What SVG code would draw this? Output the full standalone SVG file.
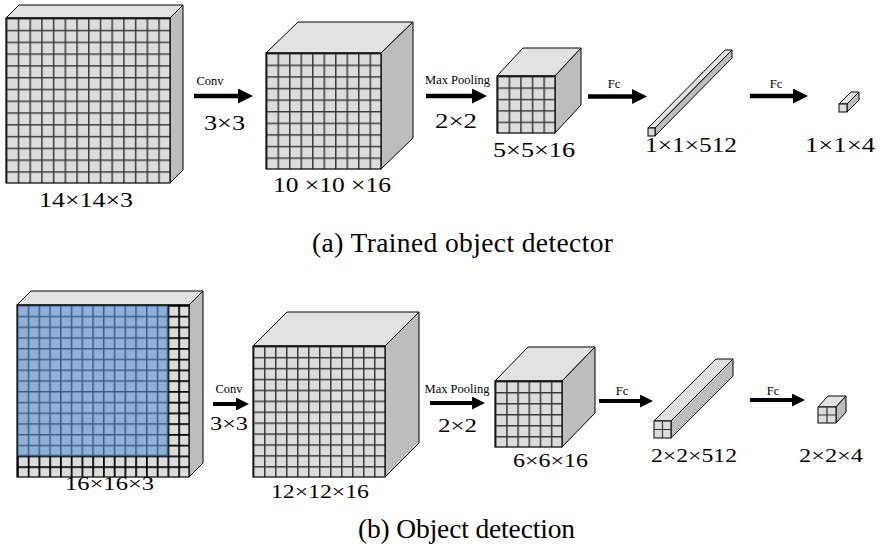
<svg xmlns="http://www.w3.org/2000/svg" width="880" height="550" viewBox="0 0 880 550">
  <style>
    .top { fill: #e2e2e2; stroke: #000; stroke-width: 1; stroke-linejoin: round; }
    .side { fill: #bdbdbd; stroke: #000; stroke-width: 1; stroke-linejoin: round; }
    .edge { fill: none; stroke: #000; stroke-width: 1.2; }
    .face { fill: #dcdcdc; stroke: #000; stroke-width: 1; }
    .cross { fill: none; stroke: #333; stroke-width: 1.2; }
    .dim { font-family: "Liberation Serif", "Times New Roman", serif; fill: #000; }
    .op { font-family: "Liberation Serif", "Times New Roman", serif; font-size: 12.5px; fill: #000; text-anchor: middle; }
    .title { font-family: "Liberation Serif", "Times New Roman", serif; font-size: 27.5px; fill: #000; }
    .shaft { stroke: #000; fill: none; }
  </style>
  <defs>
    <!-- cell grids for each front face -->
    <pattern id="g1" patternUnits="userSpaceOnUse" x="6" y="18" width="11.714" height="11.786">
      <rect width="11.714" height="11.786" fill="#dcdcdc"/>
      <path d="M0,0 H11.714 M0,0 V11.786" stroke="#3a3a3a" stroke-width="3"/>
    </pattern>
    <pattern id="g2" patternUnits="userSpaceOnUse" x="266" y="53" width="11.5" height="11.6">
      <rect width="11.5" height="11.6" fill="#dcdcdc"/>
      <path d="M0,0 H11.5 M0,0 V11.6" stroke="#3a3a3a" stroke-width="3"/>
    </pattern>
    <pattern id="g3" patternUnits="userSpaceOnUse" x="497" y="76" width="11.6" height="11.4">
      <rect width="11.6" height="11.4" fill="#dcdcdc"/>
      <path d="M0,0 H11.6 M0,0 V11.4" stroke="#3a3a3a" stroke-width="3"/>
    </pattern>
    <pattern id="g4" patternUnits="userSpaceOnUse" x="17" y="305" width="10.75" height="10.75">
      <rect width="10.75" height="10.75" fill="#dcdcdc"/>
      <path d="M0,0 H10.75 M0,0 V10.75" stroke="#000" stroke-width="3.5"/>
    </pattern>
    <pattern id="g4b" patternUnits="userSpaceOnUse" x="17" y="305" width="10.75" height="10.75">
      <rect width="10.75" height="10.75" fill="#8fb1d9"/>
      <path d="M0,0 H10.75 M0,0 V10.75" stroke="#3d5d80" stroke-width="3"/>
    </pattern>
    <pattern id="g5" patternUnits="userSpaceOnUse" x="253" y="346" width="11" height="10.917">
      <rect width="11" height="10.917" fill="#dcdcdc"/>
      <path d="M0,0 H11 M0,0 V10.917" stroke="#3a3a3a" stroke-width="3"/>
    </pattern>
    <pattern id="g6" patternUnits="userSpaceOnUse" x="495" y="381" width="11.167" height="11">
      <rect width="11.167" height="11" fill="#dcdcdc"/>
      <path d="M0,0 H11.167 M0,0 V11" stroke="#3a3a3a" stroke-width="3"/>
    </pattern>
    <marker id="headA" markerUnits="userSpaceOnUse" viewBox="0 0 15 15" markerWidth="15" markerHeight="15" refX="3" refY="7.5" orient="auto">
      <path d="M0,0 L15,7.5 L0,15 z" fill="#000"/>
    </marker>
    <marker id="headB" markerUnits="userSpaceOnUse" viewBox="0 0 13 13" markerWidth="13" markerHeight="13" refX="3" refY="6.5" orient="auto">
      <path d="M0,0 L13,6.5 L0,13 z" fill="#000"/>
    </marker>
  </defs>

  <!-- ===== Row (a) ===== -->
  <g id="input-14x14x3">
    <polygon class="top" points="6,18 19,5 183,5 170,18"/>
    <polygon class="side" points="170,18 183,5 183,170 170,183"/>
    <rect x="6" y="18" width="164" height="165" fill="url(#g1)"/>
    <rect class="edge" x="6" y="18" width="164" height="165"/>
    <text class="dim" x="39" y="207" font-size="21" textLength="94" lengthAdjust="spacingAndGlyphs">14×14×3</text>
  </g>

  <g id="conv-10x10x16">
    <polygon class="top" points="266,53 298,22 413,22 381,53"/>
    <polygon class="side" points="381,53 413,22 413,138 381,169"/>
    <rect x="266" y="53" width="115" height="116" fill="url(#g2)"/>
    <rect class="edge" x="266" y="53" width="115" height="116"/>
    <text class="dim" x="273" y="192" font-size="21" textLength="118" lengthAdjust="spacingAndGlyphs">10 ×10 ×16</text>
  </g>

  <g id="pool-5x5x16">
    <polygon class="top" points="497,76 523,48 581,48 555,76"/>
    <polygon class="side" points="555,76 581,48 581,105 555,133"/>
    <rect x="497" y="76" width="58" height="57" fill="url(#g3)"/>
    <rect class="edge" x="497" y="76" width="58" height="57"/>
    <text class="dim" x="493" y="157" font-size="21" textLength="82" lengthAdjust="spacingAndGlyphs">5×5×16</text>
  </g>

  <g id="fc-1x1x512">
    <polygon class="top" points="648,128 725,50 732,50 655,128"/>
    <polygon class="side" points="655,128 732,50 732,58 655,136"/>
    <rect class="face" x="648" y="128" width="7" height="8"/>
    <text class="dim" x="645" y="152" font-size="20" textLength="92" lengthAdjust="spacingAndGlyphs">1×1×512</text>
  </g>

  <g id="fc-1x1x4">
    <polygon class="top" points="839,104 851,92 859,92 847,104"/>
    <polygon class="side" points="847,104 859,92 859,100 847,112"/>
    <rect class="face" x="839" y="104" width="8" height="8"/>
    <text class="dim" x="805" y="152" font-size="20" textLength="70" lengthAdjust="spacingAndGlyphs">1×1×4</text>
  </g>

  <text id="caption-a" class="title" x="312" y="252" textLength="301" lengthAdjust="spacing">(a) Trained object detector</text>

  <!-- ===== Row (b) ===== -->
  <g id="input-16x16x3">
    <polygon class="top" points="17,305 31,291 203,291 189,305"/>
    <polygon class="side" points="189,305 203,291 203,463 189,477"/>
    <rect x="17" y="305" width="172" height="172" fill="url(#g4)"/>
    <rect x="17" y="305" width="150.5" height="150.5" fill="url(#g4b)"/>
    <path d="M167.5,305 V455.5 H17" fill="none" stroke="#3d5d80" stroke-width="1.5"/>
    <rect class="edge" x="17" y="305" width="172" height="172"/>
    <text class="dim" x="65" y="490" font-size="19" textLength="89" lengthAdjust="spacingAndGlyphs">16×16×3</text>
  </g>

  <g id="conv-12x12x16">
    <polygon class="top" points="253,346 287,312 419,312 385,346"/>
    <polygon class="side" points="385,346 419,312 419,443 385,477"/>
    <rect x="253" y="346" width="132" height="131" fill="url(#g5)"/>
    <rect class="edge" x="253" y="346" width="132" height="131"/>
    <text class="dim" x="271" y="498" font-size="19" textLength="98" lengthAdjust="spacingAndGlyphs">12×12×16</text>
  </g>

  <g id="pool-6x6x16">
    <polygon class="top" points="495,381 528,347 595,347 562,381"/>
    <polygon class="side" points="562,381 595,347 595,413 562,447"/>
    <rect x="495" y="381" width="67" height="66" fill="url(#g6)"/>
    <rect class="edge" x="495" y="381" width="67" height="66"/>
    <text class="dim" x="513" y="467" font-size="19" textLength="75" lengthAdjust="spacingAndGlyphs">6×6×16</text>
  </g>

  <g id="fc-2x2x512">
    <polygon class="top" points="654,421 716,359 733,359 671,421"/>
    <polygon class="side" points="671,421 733,359 733,376 671,438"/>
    <rect class="face" x="654" y="421" width="17" height="17"/>
    <path class="cross" d="M662.5,421 V438 M654,429.5 H671"/>
    <text class="dim" x="651" y="462" font-size="19" textLength="86" lengthAdjust="spacingAndGlyphs">2×2×512</text>
  </g>

  <g id="fc-2x2x4">
    <polygon class="top" points="818,407 828,396 846,396 836,407"/>
    <polygon class="side" points="836,407 846,396 846,412 836,423"/>
    <rect class="face" x="818" y="407" width="18" height="16"/>
    <path class="cross" d="M827,407 V423 M818,415 H836"/>
    <text class="dim" x="799" y="462" font-size="19" textLength="64" lengthAdjust="spacingAndGlyphs">2×2×4</text>
  </g>

  <text id="caption-b" class="title" x="358" y="538" textLength="217" lengthAdjust="spacing">(b) Object detection</text>

  <!-- ===== Connectors ===== -->
  <g id="connectors">
    <line class="shaft" x1="194" y1="96" x2="241" y2="96" stroke-width="4.5" marker-end="url(#headA)"/>
    <text class="op" x="210" y="85">Conv</text>
    <text class="dim" x="204" y="130" font-size="21" textLength="41" lengthAdjust="spacingAndGlyphs">3×3</text>

    <line class="shaft" x1="426" y1="96" x2="475" y2="96" stroke-width="4.5" marker-end="url(#headA)"/>
    <text class="op" x="457.5" y="84">Max Pooling</text>
    <text class="dim" x="435" y="128" font-size="20" textLength="42" lengthAdjust="spacingAndGlyphs">2×2</text>

    <line class="shaft" x1="588" y1="96.5" x2="635" y2="96.5" stroke-width="4.5" marker-end="url(#headA)"/>
    <text class="op" x="614" y="88">Fc</text>

    <line class="shaft" x1="750" y1="96" x2="796" y2="96" stroke-width="4.5" marker-end="url(#headA)"/>
    <text class="op" x="776" y="88">Fc</text>

    <line class="shaft" x1="213" y1="404" x2="239" y2="404" stroke-width="4" marker-end="url(#headB)"/>
    <text class="op" x="229" y="393">Conv</text>
    <text class="dim" x="210" y="430" font-size="19" textLength="38" lengthAdjust="spacingAndGlyphs">3×3</text>

    <line class="shaft" x1="430" y1="403" x2="475" y2="403" stroke-width="4" marker-end="url(#headB)"/>
    <text class="op" x="457" y="393">Max Pooling</text>
    <text class="dim" x="438" y="432" font-size="19" textLength="39" lengthAdjust="spacingAndGlyphs">2×2</text>

    <line class="shaft" x1="599" y1="401" x2="643" y2="401" stroke-width="4" marker-end="url(#headB)"/>
    <text class="op" x="622" y="395">Fc</text>

    <line class="shaft" x1="750" y1="400" x2="795" y2="400" stroke-width="4" marker-end="url(#headB)"/>
    <text class="op" x="773" y="395">Fc</text>
  </g>
</svg>
